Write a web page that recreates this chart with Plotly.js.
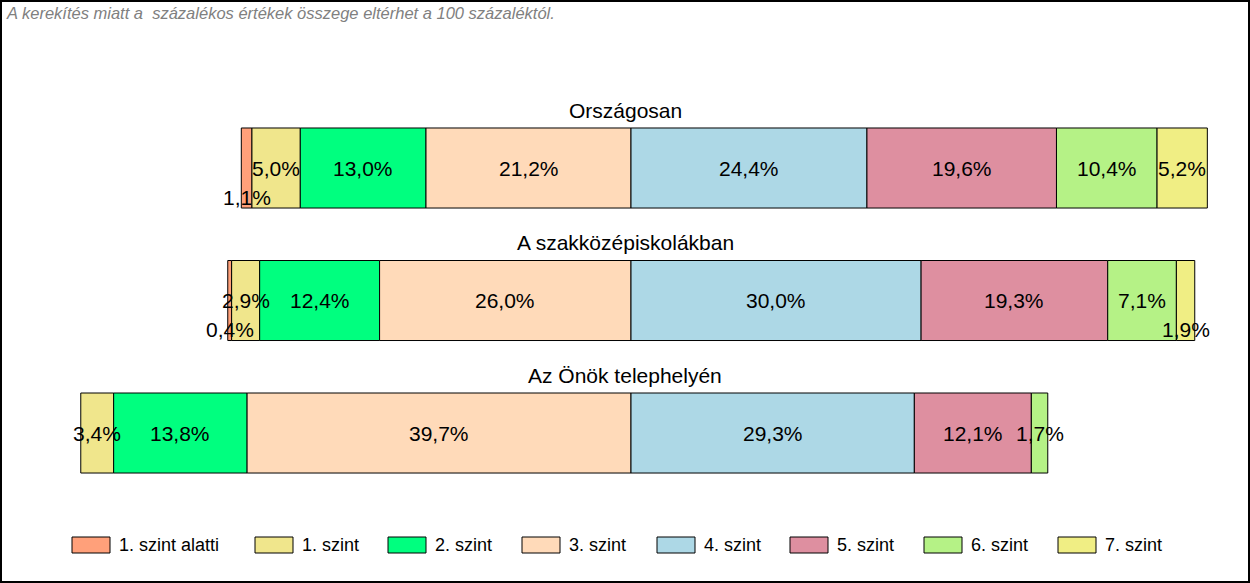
<!DOCTYPE html>
<html>
<head>
<meta charset="utf-8">
<script src="https://cdn.plot.ly/plotly-3.0.1.min.js"></script>
<style>html,body{margin:0;padding:0;background:#fff;}#chart{width:1250px;height:583px;}</style>
</head>
<body>
<div id="chart"></div>
<script>
// ---- data ----
const categories = ['Országosan', 'A szakközépiskolákban', 'Az Önök telephelyén'];
const levels = ['1. szint alatti', '1. szint', '2. szint', '3. szint', '4. szint', '5. szint', '6. szint', '7. szint'];
const orszagosan = [1.1, 5.0, 13.0, 21.2, 24.4, 19.6, 10.4, 5.2];
const szakkozep  = [0.4, 2.9, 12.4, 26.0, 30.0, 19.3, 7.1, 1.9];
const telephely  = [null, 3.4, 13.8, 39.7, 29.3, 12.1, 1.7, null];
const note = 'A kerekítés miatt a  százalékos értékek összege eltérhet a 100 százaléktól.';

// ---- styles ----
const colors = ['#FFA07A', '#F0E68C', '#00FF7F', '#FFDAB9', '#ADD8E6', '#DE8FA0', '#B5F286', '#F0EE84'];
const legendX = [72, 255, 388, 522, 657, 790, 924, 1058];
const W = 1250, H = 583;
const FONT = '"Liberation Sans", Arial, sans-serif';
const firstRight = 4; // levels from index 4 go right of zero

const rows = [orszagosan, szakkozep, telephely];
const fmt = v => v.toFixed(1).replace('.', ',') + '%';

// compute bases (diverging stack around the 3/4 boundary)
const bases = rows.map(r => {
  const b = new Array(r.length).fill(null);
  let acc = 0;
  for (let i = firstRight - 1; i >= 0; i--) { const v = r[i] || 0; acc += v; b[i] = -acc; }
  acc = 0;
  for (let i = firstRight; i < r.length; i++) { b[i] = acc; acc += (r[i] || 0); }
  return b;
});

const traces = levels.map((lv, i) => ({
  type: 'bar',
  orientation: 'h',
  name: lv,
  y: categories,
  x: rows.map(r => r[i]),
  base: bases.map(b => b[i]),
  width: 0.604,
  marker: {color: colors[i], line: {color: '#000', width: 1}},
  hoverinfo: 'skip',
  showlegend: false
}));

const annotations = [];
rows.forEach((r, ci) => {
  r.forEach((v, i) => {
    if (v === null || v === undefined) return;
    const prev = i > 0 ? r[i - 1] : null;
    const next = i < r.length - 1 ? r[i + 1] : null;
    const crowded = v < 2 && ((i === 0 && next !== null && next < 8) || (i > 0 && prev !== null && prev < 8));
    annotations.push({
      x: bases[ci][i] + v / 2, y: categories[ci], xref: 'x', yref: 'y',
      text: fmt(v), showarrow: false, yshift: crowded ? -29 : 0,
      font: {family: FONT, size: 21, color: '#000'}
    });
  });
  annotations.push({
    x: 0.5, xref: 'paper', y: categories[ci], yref: 'y', yshift: 58,
    text: categories[ci], showarrow: false,
    font: {family: FONT, size: 21, color: '#000'}
  });
});

annotations.push({
  x: 4 / W, y: 1 - 13 / H, xref: 'paper', yref: 'paper', xanchor: 'left', yanchor: 'middle',
  text: '<i>' + note + '</i>', showarrow: false,
  font: {family: FONT, size: 16.5, color: '#808080'}
});

const shapes = [{
  type: 'rect', xref: 'paper', yref: 'paper', x0: 0, x1: 1, y0: 0, y1: 1,
  line: {color: '#000', width: 4}, fillcolor: 'rgba(0,0,0,0)'
}];

levels.forEach((lv, i) => {
  const x0 = legendX[i];
  shapes.push({
    type: 'rect', xref: 'paper', yref: 'paper',
    x0: x0 / W, x1: (x0 + 38) / W, y0: 1 - 553 / H, y1: 1 - 537 / H,
    fillcolor: colors[i], line: {color: '#000', width: 1}
  });
  annotations.push({
    x: (x0 + 45) / W, y: 1 - 545 / H, xref: 'paper', yref: 'paper',
    xanchor: 'left', yanchor: 'middle', text: lv, showarrow: false,
    font: {family: FONT, size: 18, color: '#000'}
  });
});

const scale = 9.67; // px per percent
const layout = {
  width: W, height: H,
  margin: {l: 0, r: 0, t: 0, b: 0, pad: 0},
  paper_bgcolor: '#fff', plot_bgcolor: '#fff',
  barmode: 'overlay',
  showlegend: false,
  xaxis: {range: [-631 / scale, (W - 631) / scale], visible: false, fixedrange: true},
  yaxis: {type: 'category', categoryorder: 'array', categoryarray: categories,
          range: [3.132, -1.268], autorange: false, visible: false, fixedrange: true},
  annotations: annotations,
  shapes: shapes,
  font: {family: FONT}
};

Plotly.newPlot('chart', traces, layout, {displayModeBar: false, staticPlot: true});
</script>
</body>
</html>
